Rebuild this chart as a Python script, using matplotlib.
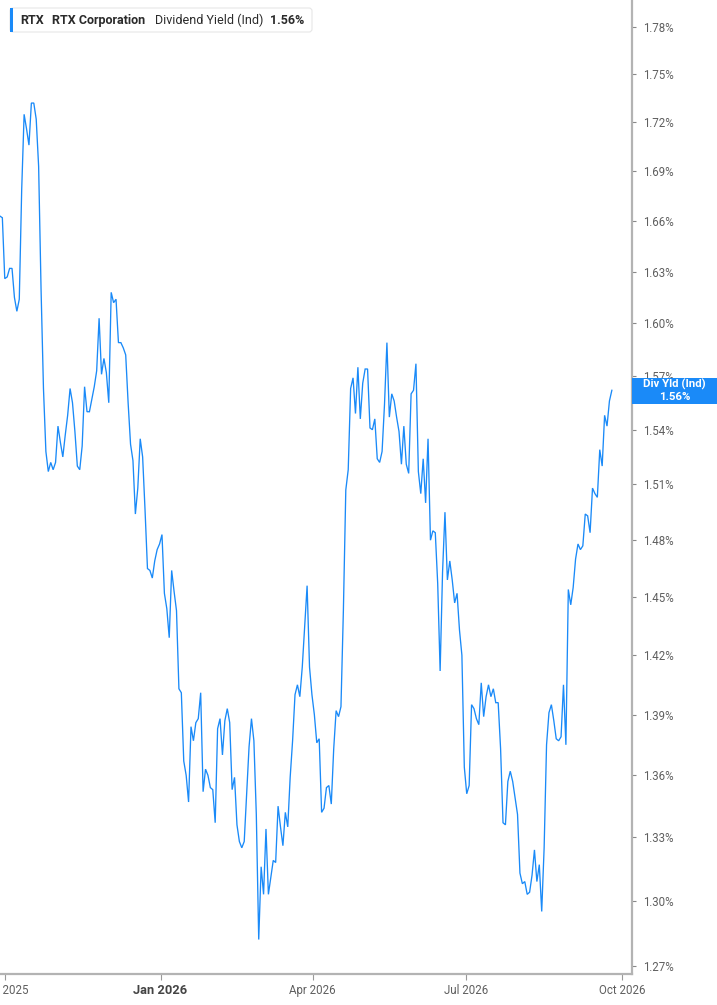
import matplotlib
matplotlib.use("Agg")
import matplotlib.pyplot as plt
import matplotlib.dates as mdates
import matplotlib.ticker as mticker
from matplotlib.patches import FancyBboxPatch, Rectangle
import pandas as pd

# ---------------- data ----------------
ticker_sym = "RTX"
company = "RTX Corporation"
metric = "Dividend Yield (Ind)"
last_label = "1.56%"
tag_title = "Div Yld (Ind)"

yield_part1 = [1.663, 1.662, 1.626, 1.627, 1.632, 1.632, 1.615, 1.607, 1.614, 1.679,
               1.725, 1.716, 1.706, 1.732, 1.732, 1.722, 1.693, 1.620, 1.563, 1.528,
               1.517, 1.522, 1.518, 1.522, 1.542, 1.533, 1.525, 1.537, 1.548, 1.563,
               1.555, 1.539, 1.520, 1.518, 1.531, 1.564, 1.550, 1.550, 1.557, 1.564,
               1.573, 1.603, 1.571]
yield_part2 = [1.580, 1.572, 1.555, 1.618, 1.612, 1.614, 1.589, 1.589, 1.586, 1.582,
               1.555, 1.532, 1.523, 1.494, 1.508, 1.535, 1.525, 1.496, 1.465, 1.464,
               1.460, 1.469, 1.475, 1.478, 1.483, 1.452, 1.444, 1.429, 1.464, 1.453,
               1.443, 1.403, 1.401, 1.367, 1.360, 1.347, 1.384, 1.377, 1.386, 1.388,
               1.401, 1.352, 1.363, 1.360, 1.354, 1.353, 1.337, 1.383, 1.388, 1.370,
               1.387, 1.393, 1.386, 1.353, 1.359, 1.336, 1.328, 1.325, 1.328, 1.351,
               1.374, 1.388, 1.377, 1.341, 1.282, 1.316, 1.303, 1.334, 1.303, 1.311]
yield_part3 = [1.319, 1.318, 1.345, 1.335, 1.326, 1.342, 1.335, 1.359, 1.377, 1.400,
               1.405, 1.399, 1.414, 1.435, 1.456, 1.414, 1.400, 1.390, 1.376, 1.378,
               1.342, 1.344, 1.354, 1.355, 1.346, 1.373, 1.392, 1.389, 1.394, 1.443,
               1.507, 1.518, 1.563, 1.569, 1.549, 1.575, 1.546, 1.566, 1.574, 1.574,
               1.541, 1.540, 1.546, 1.524, 1.522, 1.528, 1.554, 1.589, 1.547, 1.560,
               1.556, 1.547, 1.539, 1.521, 1.542, 1.521, 1.516, 1.560, 1.562, 1.577,
               1.517, 1.505, 1.524, 1.500, 1.535, 1.480, 1.485, 1.484, 1.457]
yield_part4 = [1.412, 1.463, 1.495, 1.459, 1.469, 1.459, 1.447, 1.452, 1.433, 1.420,
               1.364, 1.351, 1.355, 1.395, 1.393, 1.388, 1.385, 1.406, 1.389, 1.399,
               1.405, 1.399, 1.403, 1.396, 1.396, 1.373, 1.337, 1.336, 1.357, 1.362,
               1.357, 1.349, 1.341, 1.313, 1.308, 1.309, 1.303, 1.304, 1.312, 1.324,
               1.309, 1.317, 1.295, 1.325, 1.375, 1.391, 1.395, 1.387, 1.378, 1.377,
               1.379, 1.405, 1.375, 1.454, 1.446, 1.455, 1.470, 1.478, 1.475, 1.477,
               1.494, 1.493, 1.484, 1.508, 1.505, 1.503, 1.529, 1.520, 1.548, 1.542,
               1.556, 1.562]

yields = yield_part1 + yield_part2 + yield_part3 + yield_part4
first_date = "2025-09-28"
last_date = "2026-09-25"
dates = pd.date_range(first_date, last_date, periods=len(yields))

y_ticks = [1.27, 1.30, 1.33, 1.36, 1.39, 1.42, 1.45, 1.48, 1.51, 1.54,
           1.57, 1.60, 1.63, 1.66, 1.69, 1.72, 1.75, 1.78]
x_tick_dates = ["2025-10-01", "2026-01-01", "2026-04-01", "2026-07-01", "2026-10-01"]
x_tick_labels = ["Oct 2025", "Jan 2026", "Apr 2026", "Jul 2026", "Oct 2026"]

# ---------------- style ----------------
W, H = 717, 1005
BLUE = "#1a8af8"
AX_GRAY = "#b3b3b3"
TXT_GRAY = "#5f5f5f"
FONT = ["Roboto", "DejaVu Sans"]
plt.rcParams["font.family"] = FONT

fig = plt.figure(figsize=(W / 100, H / 100), dpi=100)
fig.patch.set_facecolor("white")
ax_right_px, ax_bottom_px = 632, 974
ax = fig.add_axes([0, 1 - ax_bottom_px / H, ax_right_px / W, ax_bottom_px / H])
ax.set_facecolor("white")

ax.plot(dates, yields, color=BLUE, lw=0.95, solid_joinstyle="miter", zorder=3)

ax.set_yscale("log")
ax.set_ylim(1.2662, 1.7974)
ref = mdates.date2num(pd.Timestamp("2025-10-01"))
ppd = 1.6904
ax.set_xlim(ref - 5 / ppd, ref + 627 / ppd)

ax.yaxis.tick_right()
ax.yaxis.set_major_locator(mticker.FixedLocator(y_ticks))
ax.yaxis.set_minor_locator(mticker.NullLocator())
ax.set_yticks(y_ticks)
ax.set_yticklabels([f"{v:.2f}%" for v in y_ticks])
ax.tick_params(axis="y", which="major", direction="out", length=3, width=0.8,
               color="#888888", labelsize=8.3, labelcolor=TXT_GRAY, pad=5)

ax.set_xticks([mdates.date2num(pd.Timestamp(d)) for d in x_tick_dates])
ax.set_xticklabels(x_tick_labels)
ax.xaxis.set_minor_locator(mticker.NullLocator())
ax.tick_params(axis="x", direction="out", length=4, width=0.8, color="#999999",
               labelsize=8.3, labelcolor=TXT_GRAY, pad=3)
for lab in ax.get_xticklabels():
    if lab.get_text().startswith("Jan"):
        lab.set_fontweight("bold")
        lab.set_fontsize(9.3)
        lab.set_color("#444444")

for side in ("left", "top"):
    ax.spines[side].set_visible(False)
for side in ("right", "bottom"):
    ax.spines[side].set_color(AX_GRAY)
    ax.spines[side].set_linewidth(1.6)
ax.grid(False)

# ---------------- legend box (top-left) ----------------
box = FancyBboxPatch((10, H - 32), 302, 24, boxstyle="round,pad=0,rounding_size=3",
                     transform=None, facecolor="white", edgecolor="#e6e6e6", lw=0.8,
                     zorder=5)
fig.patches.append(box)
bar = Rectangle((10, H - 32), 3, 24, transform=None, facecolor=BLUE,
                edgecolor="none", zorder=6)
fig.patches.append(bar)
leg_y = 1 - 20.5 / H
dark = "#2b2b2b"
fig.text(20 / W, leg_y, ticker_sym, fontsize=9.0, fontweight="bold", color=dark,
         va="center", ha="left", zorder=7)
fig.text(52 / W, leg_y, company, fontsize=9.0, fontweight="bold", color=dark,
         va="center", ha="left", zorder=7)
fig.text(155 / W, leg_y, metric, fontsize=9.0, color=dark,
         va="center", ha="left", zorder=7)
fig.text(270 / W, leg_y, last_label, fontsize=9.0, fontweight="bold", color=dark,
         va="center", ha="left", zorder=7)

# ---------------- last-value tag on the right axis ----------------
fig.canvas.draw()
y_disp = ax.transData.transform((ref, yields[-1]))[1]
tag = Rectangle((ax_right_px, y_disp - 14), W - ax_right_px, 26, transform=None,
                facecolor=BLUE, edgecolor="none", zorder=10)
fig.patches.append(tag)
cx = (ax_right_px + W) / 2 / W
fig.text(cx, (y_disp + 5.5) / H, tag_title, color="white", fontsize=8.2,
         fontweight="bold", ha="center", va="center", zorder=11)
fig.text(cx, (y_disp - 7) / H, last_label, color="white", fontsize=8.2,
         fontweight="bold", ha="center", va="center", zorder=11)

fig.savefig("out.png", dpi=100, facecolor="white")
